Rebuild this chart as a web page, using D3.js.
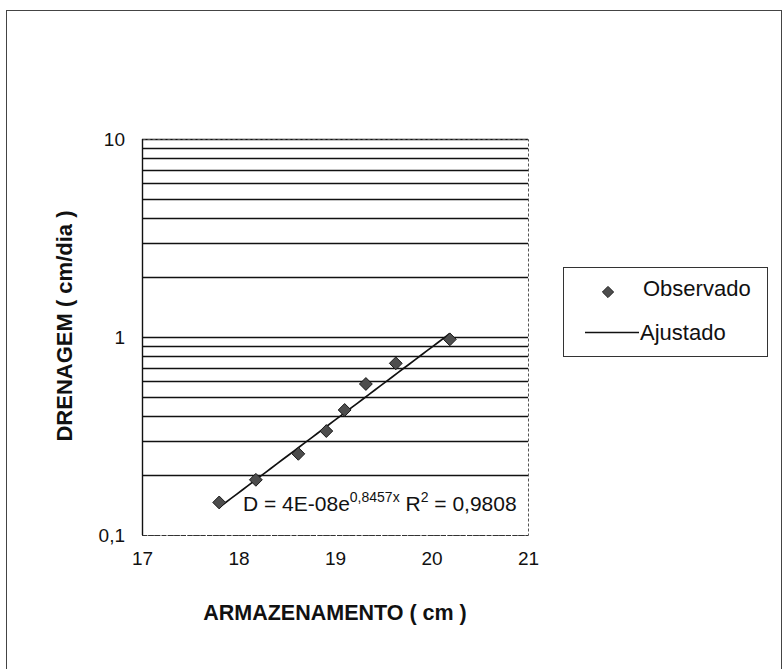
<!DOCTYPE html>
<html>
<head>
<meta charset="utf-8">
<script src="https://cdn.jsdelivr.net/npm/d3@7"></script>
<style>
  html, body { margin: 0; padding: 0; background: #fff; }
  svg { display: block; }
  text { font-family: "Liberation Sans", Arial, sans-serif; fill: #111; }
</style>
</head>
<body>
<svg id="chart" width="783" height="669"></svg>
<script>
// Armazenamento (cm) vs drenagem (cm/dia), observed points
const armazenamento = [17.80, 18.18, 18.62, 18.91, 19.10, 19.32, 19.63, 20.19];
const drenagem      = [0.146, 0.190, 0.257, 0.335, 0.428, 0.579, 0.736, 0.973];

// Exponential trend line D = a·e^(b·x) and its R²
const fitA = 4e-8;
const fitB = 0.8457;
const fitR2 = 0.9808;

const xTicks = [17, 18, 19, 20, 21];
const yTicks = [0.1, 1, 10];
const yTickLabels = ["0,1", "1", "10"];
const yGrid = [0.2, 0.3, 0.4, 0.5, 0.6, 0.7, 0.8, 0.9, 1, 2, 3, 4, 5, 6, 7, 8, 9, 10];

const svg = d3.select("#chart");

// outer chart frame
svg.append("rect")
  .attr("x", 6.5).attr("y", 10.5).attr("width", 775).attr("height", 700)
  .attr("fill", "#fff").attr("stroke", "#444").attr("stroke-width", 1);

const plot = { left: 142, right: 528, top: 139, bottom: 535 };

const x = d3.scaleLinear().domain([17, 21]).range([plot.left, plot.right]);
const y = d3.scaleLog().domain([0.1, 10]).range([plot.bottom, plot.top]);

// horizontal gridlines (major and minor)
svg.append("g").selectAll("line")
  .data(yGrid)
  .join("line")
  .attr("x1", plot.left).attr("x2", plot.right)
  .attr("y1", d => Math.round(y(d)) + 0.5).attr("y2", d => Math.round(y(d)) + 0.5)
  .attr("stroke", "#111").attr("stroke-width", 1.5);

// plot-area border
svg.append("rect")
  .attr("x", plot.left + 0.5).attr("y", plot.top + 0.5)
  .attr("width", plot.right - plot.left).attr("height", plot.bottom - plot.top)
  .attr("fill", "none").attr("stroke", "#555").attr("stroke-width", 1)
  .attr("stroke-dasharray", "3,2");

// y axis line
svg.append("line")
  .attr("x1", plot.left + 0.5).attr("x2", plot.left + 0.5)
  .attr("y1", plot.top).attr("y2", plot.bottom)
  .attr("stroke", "#111").attr("stroke-width", 1.4);

// x axis line
svg.append("line")
  .attr("x1", plot.left).attr("x2", plot.right)
  .attr("y1", plot.bottom + 0.5).attr("y2", plot.bottom + 0.5)
  .attr("stroke", "#333").attr("stroke-width", 1.2)
  .attr("stroke-dasharray", "5,1.5");

// axes (labels only, no tick marks)
const xAxis = d3.axisBottom(x).tickValues(xTicks).tickSize(0).tickPadding(17)
  .tickFormat(d3.format("d"));
const gx = svg.append("g").attr("transform", `translate(0,${plot.bottom})`).call(xAxis);
gx.select(".domain").remove();
gx.selectAll("text").attr("font-size", 19).attr("font-family", "Liberation Sans, Arial, sans-serif").attr("fill", "#111");

const yAxis = d3.axisLeft(y).tickValues(yTicks).tickSize(0).tickPadding(17)
  .tickFormat((d, i) => yTickLabels[i]);
const gy = svg.append("g").attr("transform", `translate(${plot.left},0)`).call(yAxis);
gy.select(".domain").remove();
gy.selectAll("text").attr("font-size", 19).attr("font-family", "Liberation Sans, Arial, sans-serif").attr("fill", "#111");

// fitted curve across the observed range
const xMin = d3.min(armazenamento), xMax = d3.max(armazenamento);
const fitPts = d3.range(0, 41).map(i => {
  const xv = xMin + (xMax - xMin) * i / 40;
  return [xv, fitA * Math.exp(fitB * xv)];
});
svg.append("path")
  .datum(fitPts)
  .attr("fill", "none").attr("stroke", "#111").attr("stroke-width", 1.7)
  .attr("d", d3.line().x(d => x(d[0])).y(d => y(d[1])));

// observed points
const diamond = d3.symbol().type(d3.symbolDiamond2).size(105);
svg.append("g").selectAll("path")
  .data(armazenamento.map((v, i) => [v, drenagem[i]]))
  .join("path")
  .attr("transform", d => `translate(${x(d[0])},${y(d[1])})`)
  .attr("d", diamond)
  .attr("fill", "#4d4d4d").attr("stroke", "#1a1a1a").attr("stroke-width", 1);

// trend equation label
const fmt4 = d3.format(".4f");
const eq = svg.append("text").attr("x", 243).attr("y", 511).attr("font-size", 21);
eq.append("tspan").text(`D = ${d3.format(".0e")(fitA).replace("e-", "E-0")}e`);
eq.append("tspan").attr("dy", -9).attr("font-size", 14).text(`${fmt4(fitB).replace(".", ",")}x`);
eq.append("tspan").attr("dy", 9).text(" R");
eq.append("tspan").attr("dy", -9).attr("font-size", 14).text("2");
eq.append("tspan").attr("dy", 9).text(` = ${fmt4(fitR2).replace(".", ",")}`);

// axis titles
svg.append("text")
  .attr("x", 335).attr("y", 620)
  .attr("text-anchor", "middle").attr("font-size", 21.5).attr("font-weight", "bold")
  .text("ARMAZENAMENTO ( cm )");

svg.append("text")
  .attr("transform", "translate(72,326) rotate(-90)")
  .attr("text-anchor", "middle").attr("font-size", 22).attr("font-weight", "bold")
  .text("DRENAGEM ( cm/dia )");

// legend
const lg = svg.append("g");
lg.append("rect")
  .attr("x", 563.5).attr("y", 267.5).attr("width", 204).attr("height", 89)
  .attr("fill", "#fff").attr("stroke", "#333").attr("stroke-width", 1);
lg.append("path")
  .attr("transform", "translate(608,292)")
  .attr("d", d3.symbol().type(d3.symbolDiamond2).size(80))
  .attr("fill", "#4d4d4d").attr("stroke", "#1a1a1a");
lg.append("text").attr("x", 643).attr("y", 296).attr("font-size", 22).text("Observado");
lg.append("line")
  .attr("x1", 585).attr("x2", 639).attr("y1", 332.5).attr("y2", 332.5)
  .attr("stroke", "#111").attr("stroke-width", 1.6);
lg.append("text").attr("x", 640).attr("y", 340).attr("font-size", 22).text("Ajustado");
</script>
</body>
</html>
